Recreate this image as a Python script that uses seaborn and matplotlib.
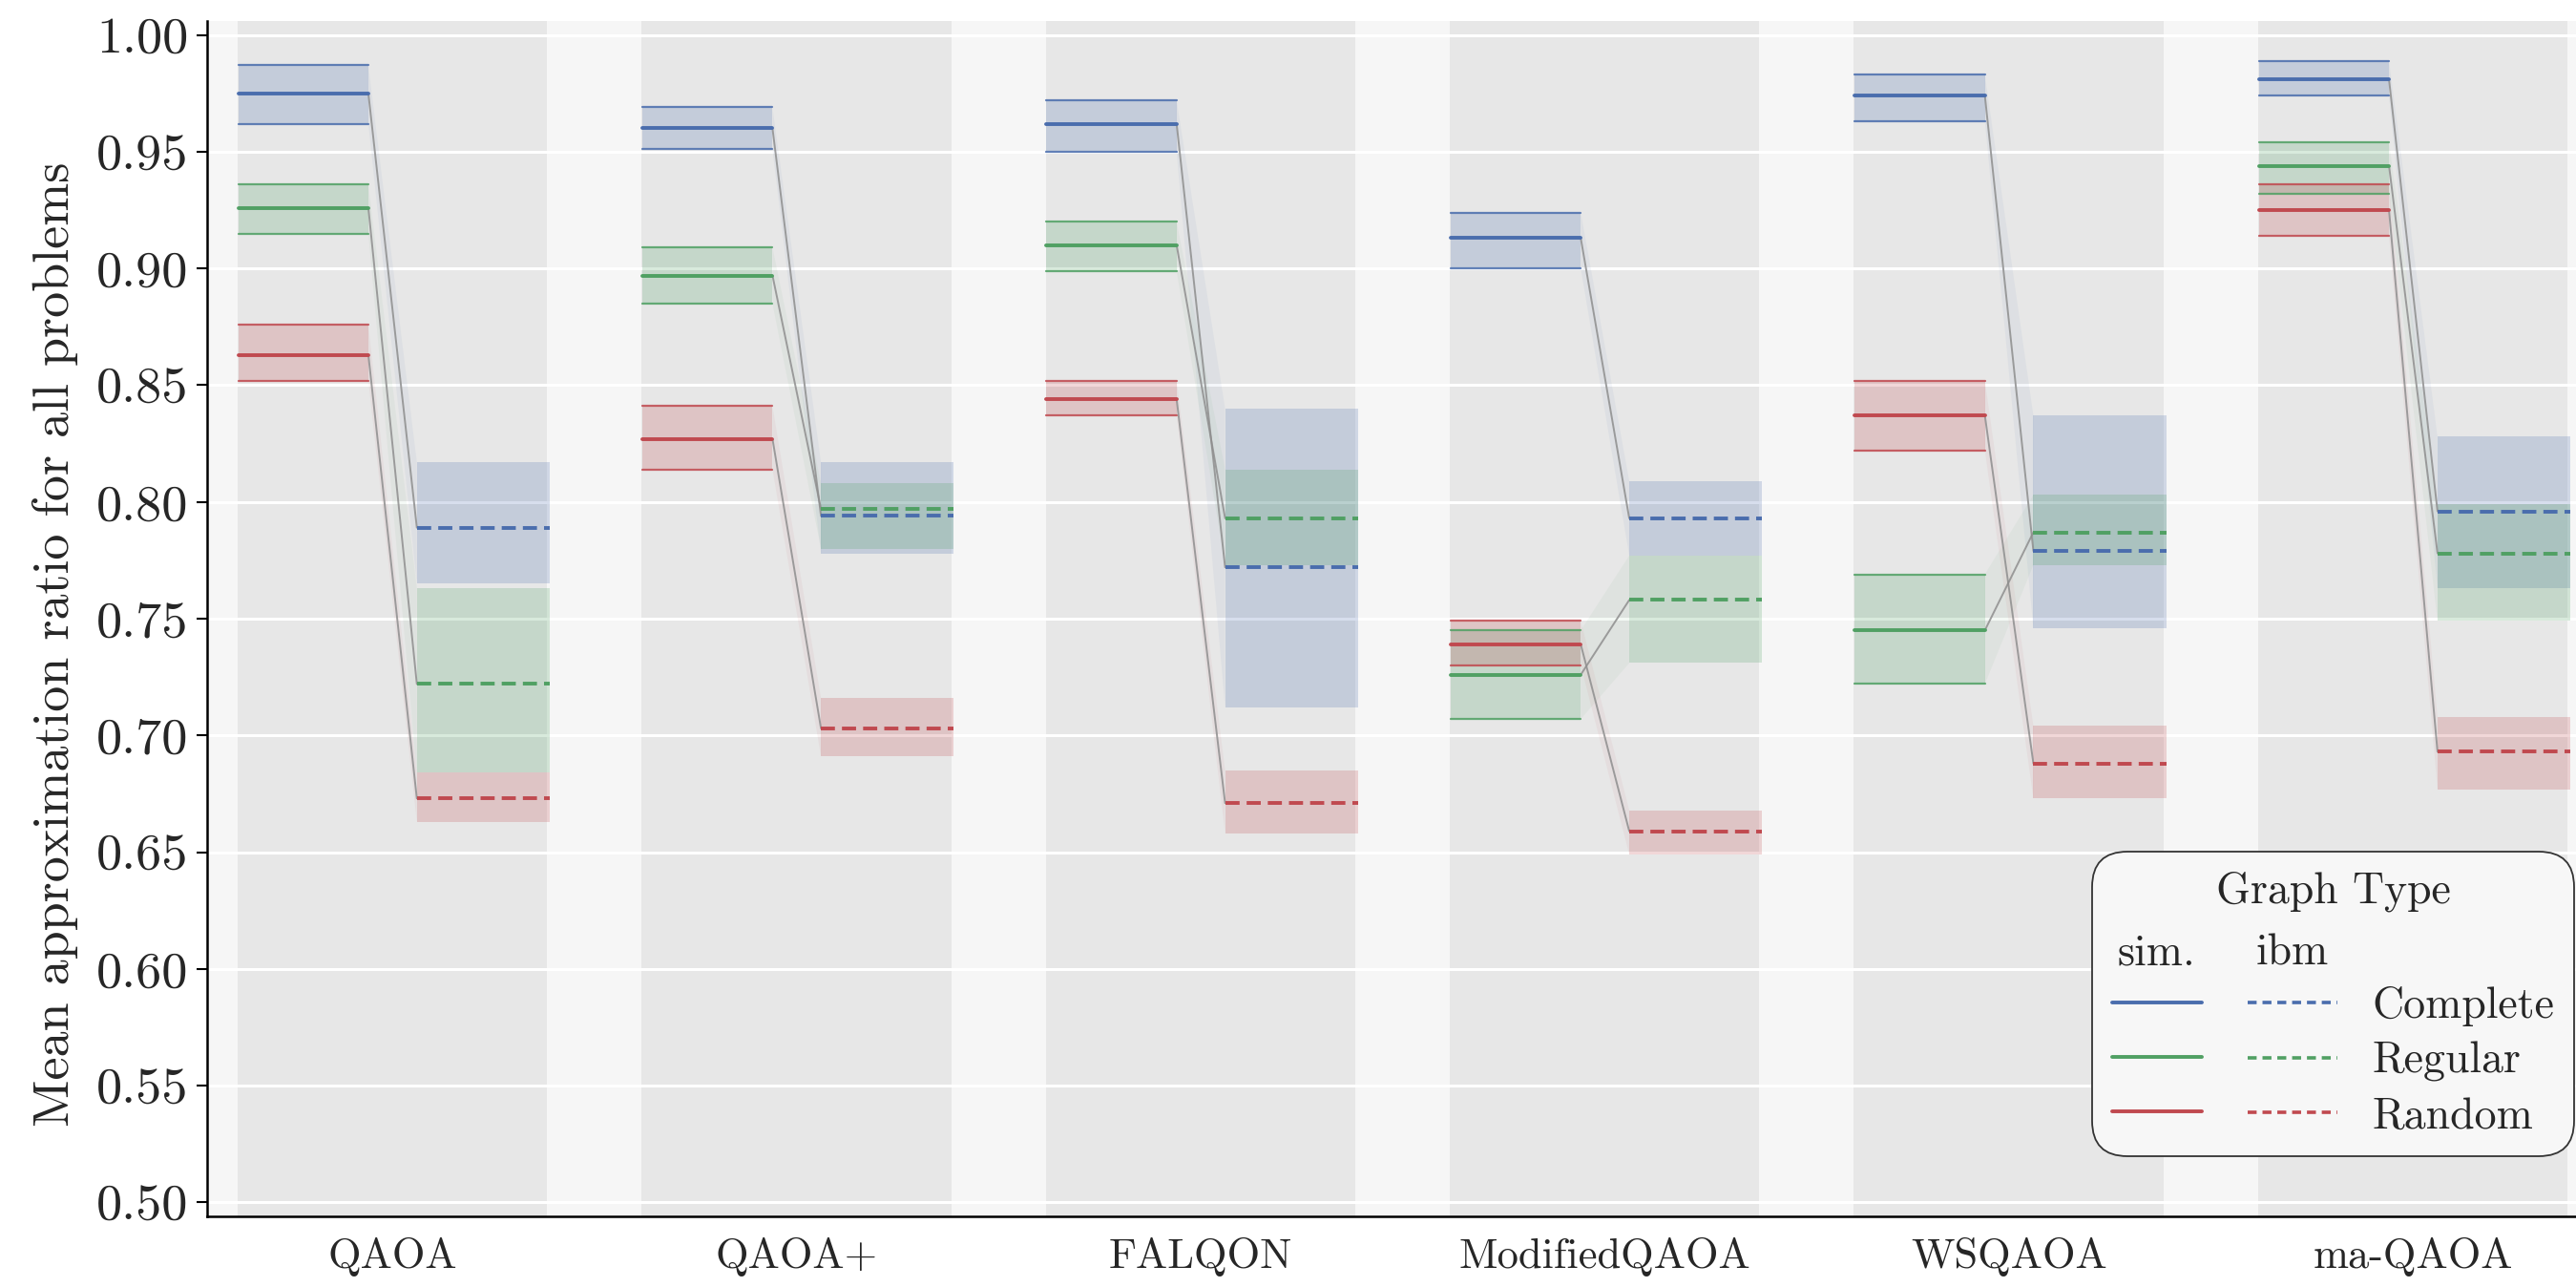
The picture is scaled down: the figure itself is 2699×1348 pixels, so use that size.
import numpy as np
import pandas as pd
import matplotlib
matplotlib.use("Agg")
import matplotlib.pyplot as plt
import matplotlib.text as mtext
from matplotlib.legend_handler import HandlerBase
from matplotlib.lines import Line2D
import seaborn as sns

# ---------------- data ----------------
algorithms = ["QAOA", "QAOA+", "FALQON", "ModifiedQAOA", "WSQAOA", "ma-QAOA"]
graph_types = ["Complete", "Regular", "Random"]

sim_complete_mean = [0.975, 0.960, 0.962, 0.913, 0.974, 0.981]
sim_complete_lo   = [0.962, 0.951, 0.950, 0.900, 0.963, 0.974]
sim_complete_hi   = [0.987, 0.969, 0.972, 0.924, 0.983, 0.989]
sim_regular_mean  = [0.926, 0.897, 0.910, 0.726, 0.745, 0.944]
sim_regular_lo    = [0.915, 0.885, 0.899, 0.707, 0.722, 0.932]
sim_regular_hi    = [0.936, 0.909, 0.920, 0.745, 0.769, 0.954]
sim_random_mean   = [0.863, 0.827, 0.844, 0.739, 0.837, 0.925]
sim_random_lo     = [0.852, 0.814, 0.837, 0.730, 0.822, 0.914]
sim_random_hi     = [0.876, 0.841, 0.852, 0.749, 0.852, 0.936]

ibm_complete_mean = [0.789, 0.794, 0.772, 0.793, 0.779, 0.796]
ibm_complete_lo   = [0.765, 0.778, 0.712, 0.777, 0.746, 0.763]
ibm_complete_hi   = [0.817, 0.817, 0.840, 0.809, 0.837, 0.828]
ibm_regular_mean  = [0.722, 0.797, 0.793, 0.758, 0.787, 0.778]
ibm_regular_lo    = [0.684, 0.780, 0.773, 0.731, 0.773, 0.749]
ibm_regular_hi    = [0.763, 0.808, 0.814, 0.777, 0.803, 0.799]
ibm_random_mean   = [0.673, 0.703, 0.671, 0.659, 0.688, 0.693]
ibm_random_lo     = [0.663, 0.691, 0.658, 0.649, 0.673, 0.677]
ibm_random_hi     = [0.684, 0.716, 0.685, 0.668, 0.704, 0.708]

y_ticks = [0.50, 0.55, 0.60, 0.65, 0.70, 0.75, 0.80, 0.85, 0.90, 0.95, 1.00]
y_label = "Mean approximation ratio for all problems"

series = {
    ("sim.", "Complete"): (sim_complete_mean, sim_complete_lo, sim_complete_hi),
    ("sim.", "Regular"): (sim_regular_mean, sim_regular_lo, sim_regular_hi),
    ("sim.", "Random"): (sim_random_mean, sim_random_lo, sim_random_hi),
    ("ibm", "Complete"): (ibm_complete_mean, ibm_complete_lo, ibm_complete_hi),
    ("ibm", "Regular"): (ibm_regular_mean, ibm_regular_lo, ibm_regular_hi),
    ("ibm", "Random"): (ibm_random_mean, ibm_random_lo, ibm_random_hi),
}

# ---------------- style ----------------
sns.set_theme(style="white")
plt.rcParams["font.family"] = ["cmr10", "DejaVu Serif"]
plt.rcParams["mathtext.fontset"] = "cm"
plt.rcParams["axes.formatter.use_mathtext"] = True

palette = dict(zip(graph_types, ["#4A6DAD", "#50A063", "#C0494F"]))

# layout (positions in data units relative to group index)
seg_span = {"sim.": (-0.381, -0.059), "ibm": (0.061, 0.390)}
band_half = 0.383

W, H = 2699, 1348
fig = plt.figure(figsize=(W / 100, H / 100), dpi=100)
fig.patch.set_facecolor("white")
ax = fig.add_axes([217 / W, 1 - 1274 / H, 2505 / W, (1274 - 22) / H])
ax.set_facecolor("#F6F6F6")

# long-form frame of the mean segments
rows = []
for (plat, gt), (m, lo, hi) in series.items():
    a, b = seg_span[plat]
    for i, alg in enumerate(algorithms):
        seg = f"{plat}-{gt}-{alg}"
        for off in (a, b):
            rows.append(dict(algorithm=alg, x=i + off, value=m[i], type=gt,
                             platform=plat, seg=seg))
df = pd.DataFrame(rows)

# gray backdrop per algorithm
for i in range(len(algorithms)):
    ax.axvspan(i - band_half, i + band_half, color="#E7E7E7", lw=0, zorder=0.1)

# bands, connectors
for gt in graph_types:
    c = palette[gt]
    sm, slo, shi = series[("sim.", gt)]
    im, ilo, ihi = series[("ibm", gt)]
    for i in range(len(algorithms)):
        sa, sb = seg_span["sim."]
        ia, ib = seg_span["ibm"]
        ax.fill_between([i + sa, i + sb], slo[i], shi[i], color=c, alpha=0.22, lw=0, zorder=1)
        ax.plot([i + sa, i + sb], [slo[i]] * 2, color=c, lw=1.6, alpha=0.85, zorder=1.5)
        ax.plot([i + sa, i + sb], [shi[i]] * 2, color=c, lw=1.6, alpha=0.85, zorder=1.5)
        ax.fill_between([i + ia, i + ib], ilo[i], ihi[i], color=c, alpha=0.22, lw=0, zorder=1)
        # faint connecting band
        ax.fill([i + sb, i + sb, i + ia, i + ia], [slo[i], shi[i], ihi[i], ilo[i]],
                color=c, alpha=0.06, lw=0, zorder=1)
        ax.plot([i + sb, i + ia], [sm[i], im[i]], color="#8E8E8E", lw=1.4, alpha=0.85, zorder=1.6)

sns.lineplot(data=df, x="x", y="value", hue="type", style="platform", units="seg",
             estimator=None, palette=palette, hue_order=graph_types,
             style_order=["sim.", "ibm"], dashes={"sim.": "", "ibm": (3.8, 1.9)},
             lw=2.8, legend=False, ax=ax, zorder=3)

# axes cosmetics
ax.set_xlim(-0.458, 5.458)
ax.set_ylim(0.494, 1.006)
ax.set_yticks(y_ticks)
ax.set_yticklabels([f"{v:.2f}" for v in y_ticks])
ax.set_xticks(range(len(algorithms)))
ax.set_xticklabels(algorithms)
ax.set_xlabel("")
ax.set_ylabel(y_label, fontsize=39)
ax.yaxis.set_label_coords(-0.054, 0.479)
ax.tick_params(axis="y", labelsize=39, length=8, width=1.5, color="black", left=True, pad=6)
ax.tick_params(axis="x", labelsize=32, length=0, pad=16)
ax.grid(axis="y", color="white", lw=2.2)
ax.grid(axis="x", visible=False)
ax.set_axisbelow(True)
for s in ["top", "right"]:
    ax.spines[s].set_visible(False)
for s in ["left", "bottom"]:
    ax.spines[s].set_color("black")
    ax.spines[s].set_linewidth(1.8)


# legend with header row
class Header:
    def __init__(self, text):
        self.text = text


class HeaderHandler(HandlerBase):
    def create_artists(self, legend, orig_handle, xdescent, ydescent, width,
                       height, fontsize, trans):
        t = mtext.Text(x=width / 2 - xdescent, y=height / 2 - ydescent - 0.12 * fontsize,
                       text=orig_handle.text, ha="center", va="center",
                       fontsize=fontsize, transform=trans,
                       fontfamily=["cmr10", "DejaVu Serif"])
        return [t]


handles = [Header("sim.")]
labels = [""]
for gt in graph_types:
    handles.append(Line2D([], [], color=palette[gt], lw=2.8))
    labels.append("")
handles.append(Header("ibm"))
labels.append("")
for gt in graph_types:
    handles.append(Line2D([], [], color=palette[gt], lw=2.6, ls=(0, (2.6, 1.7))))
    labels.append(gt)

leg_fs = 33
leg = fig.legend(handles, labels, ncol=2, title="Graph Type",
                 handler_map={Header: HeaderHandler()},
                 loc="lower right", bbox_to_anchor=(2697 / W, 1 - 1211 / H),
                 bbox_transform=fig.transFigure, borderaxespad=0,
                 fontsize=leg_fs, title_fontsize=leg_fs, handlelength=2.05,
                 handletextpad=0.8, columnspacing=0.25, labelspacing=0.34,
                 frameon=True, fancybox=True, framealpha=1, borderpad=0.45)
leg._legend_box.sep = 0.46 * leg_fs
frame = leg.get_frame()
frame.set_facecolor("#F7F7F7")
frame.set_edgecolor("#333333")
frame.set_linewidth(1.3)
frame.set_boxstyle("round,pad=0,rounding_size=0.8")

fig.savefig("out.png", dpi=100, facecolor="white")
